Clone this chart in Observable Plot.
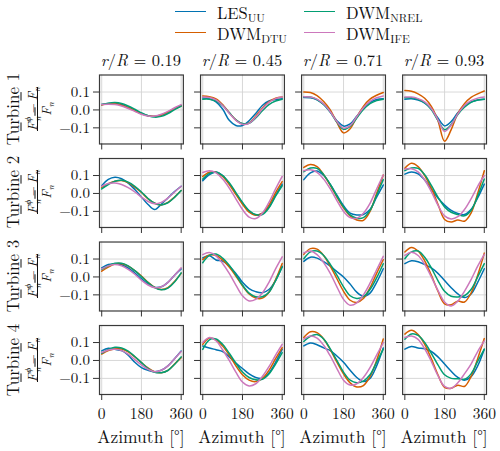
<!DOCTYPE html>
<html><head><meta charset="utf-8">
<script src="https://cdn.jsdelivr.net/npm/d3@7"></script>
<script src="https://cdn.jsdelivr.net/npm/@observablehq/plot@0.6"></script>
<style>
body{margin:0;background:#fff;}
#wrap{position:relative;width:500px;height:451px;font-family:"Latin Modern Roman","Liberation Serif",serif;color:#111;}
#wrap svg{position:absolute;left:0;top:0;}
.lab{position:absolute;white-space:nowrap;line-height:1;}
.rot{transform:translate(-50%,-50%) rotate(-90deg);}
.ctr{transform:translate(-50%,-50%);}
.sw{position:absolute;height:0;border-top:1.6px solid;width:31px;}
.leg{position:absolute;font-size:16.5px;line-height:1.1;white-space:nowrap;transform:translateY(-50%);}
.leg sub{font-size:11.5px;vertical-align:-3px;line-height:0;}
.deg{font-family:"Liberation Serif",serif;font-size:0.8em;vertical-align:0.25em;}
.fr{font-size:13px;}
.ov{text-decoration:overline;font-style:italic;}
.ss{display:inline-block;position:relative;width:0.5em;height:0.7em;font-style:italic;}
.ss .a{position:absolute;left:1px;top:-0.55em;font-size:9px;line-height:1;}
.ss .b{position:absolute;left:1px;top:0.55em;font-size:9px;line-height:1;}
.fr sub{font-size:9px;font-style:italic;line-height:0;}
.bar{position:absolute;width:0;border-left:0.9px solid #111;}
</style></head>
<body><div id="wrap"></div>
<script>
const azimuth = [0,30,60,90,120,150,180,210,240,270,300,330,360];
const seriesKeys = ["LES_UU","DWM_DTU","DWM_NREL","DWM_IFE"];
const seriesLabels = [["LES","UU"],["DWM","DTU"],["DWM","NREL"],["DWM","IFE"]];
const colors = ["#0173B2","#D55E00","#029E73","#CC78BC"];
const radii = ["0.19","0.45","0.71","0.93"];
const turbines = ["Turbine 1","Turbine 2","Turbine 3","Turbine 4"];
const xTicks = [0,180,360];
const yTicks = [-0.1,0,0.1];

// each: [LES_UU, DWM_DTU, DWM_NREL, DWM_IFE] sampled at azimuth
const t1r19 = [
 [0.030,0.036,0.037,0.030,0.015,-0.002,-0.020,-0.033,-0.037,-0.030,-0.012,0.008,0.025],
 [0.028,0.034,0.034,0.026,0.012,-0.005,-0.022,-0.033,-0.035,-0.028,-0.012,0.006,0.022],
 [0.030,0.038,0.041,0.036,0.022,0.004,-0.016,-0.032,-0.040,-0.036,-0.020,0.002,0.022],
 [0.030,0.032,0.030,0.022,0.008,-0.008,-0.024,-0.034,-0.034,-0.024,-0.008,0.012,0.030]];
const t1r45 = [
 [0.067,0.062,0.045,0.005,-0.058,-0.087,-0.087,-0.060,-0.020,0.025,0.050,0.058,0.063],
 [0.078,0.074,0.062,0.030,-0.015,-0.055,-0.078,-0.072,-0.035,0.010,0.045,0.065,0.072],
 [0.060,0.060,0.050,0.025,-0.015,-0.055,-0.076,-0.074,-0.045,-0.005,0.030,0.050,0.060],
 [0.072,0.070,0.056,0.025,-0.018,-0.058,-0.080,-0.075,-0.040,0.005,0.042,0.063,0.072]];
const t1r71 = [
 [0.070,0.068,0.056,0.030,-0.012,-0.060,-0.090,-0.078,-0.035,0.010,0.042,0.058,0.062],
 [0.100,0.097,0.080,0.047,0.000,-0.070,-0.128,-0.105,-0.040,0.020,0.060,0.082,0.097],
 [0.074,0.072,0.058,0.030,-0.012,-0.068,-0.108,-0.092,-0.045,0.002,0.035,0.052,0.060],
 [0.074,0.072,0.060,0.033,-0.010,-0.065,-0.102,-0.088,-0.038,0.012,0.048,0.068,0.078]];
const t1r93 = [
 [0.060,0.062,0.055,0.038,0.005,-0.045,-0.089,-0.065,-0.015,0.022,0.045,0.056,0.060],
 [0.108,0.104,0.090,0.065,0.020,-0.060,-0.175,-0.110,-0.020,0.035,0.070,0.090,0.106],
 [0.068,0.068,0.060,0.040,0.002,-0.058,-0.110,-0.082,-0.025,0.015,0.042,0.055,0.060],
 [0.072,0.072,0.063,0.045,0.008,-0.055,-0.120,-0.085,-0.022,0.025,0.052,0.066,0.072]];
const t2r19 = [
 [0.043,0.078,0.090,0.082,0.058,0.022,-0.020,-0.062,-0.090,-0.060,-0.025,0.010,0.040],
 [0.034,0.055,0.068,0.072,0.060,0.035,0.005,-0.030,-0.055,-0.064,-0.050,-0.020,0.016],
 [0.025,0.050,0.068,0.073,0.063,0.040,0.008,-0.028,-0.055,-0.064,-0.052,-0.022,0.016],
 [0.040,0.055,0.058,0.050,0.032,0.008,-0.020,-0.045,-0.058,-0.050,-0.025,0.008,0.040]];
const t2r45 = [
 [0.071,0.105,0.120,0.100,0.055,0.000,-0.055,-0.100,-0.120,-0.112,-0.075,-0.010,0.052],
 [0.095,0.118,0.118,0.095,0.050,-0.005,-0.060,-0.105,-0.122,-0.110,-0.065,0.005,0.066],
 [0.080,0.112,0.118,0.100,0.060,0.005,-0.050,-0.095,-0.118,-0.118,-0.080,-0.015,0.043],
 [0.117,0.127,0.115,0.080,0.030,-0.030,-0.090,-0.132,-0.140,-0.110,-0.050,0.025,0.095]];
const t2r71 = [
 [0.077,0.115,0.125,0.100,0.050,-0.010,-0.068,-0.110,-0.120,-0.118,-0.090,-0.020,0.047],
 [0.145,0.162,0.150,0.105,0.045,-0.020,-0.080,-0.125,-0.148,-0.150,-0.100,0.000,0.103],
 [0.121,0.142,0.140,0.105,0.050,-0.015,-0.075,-0.120,-0.138,-0.135,-0.095,-0.010,0.077],
 [0.127,0.132,0.118,0.080,0.025,-0.040,-0.100,-0.135,-0.138,-0.110,-0.055,0.025,0.103]];
const t2r93 = [
 [0.108,0.120,0.110,0.075,0.025,-0.025,-0.065,-0.095,-0.112,-0.118,-0.090,-0.025,0.052],
 [0.140,0.168,0.150,0.100,0.030,-0.060,-0.145,-0.160,-0.148,-0.155,-0.110,0.000,0.127],
 [0.127,0.142,0.140,0.105,0.045,-0.020,-0.075,-0.105,-0.118,-0.125,-0.095,-0.015,0.080],
 [0.136,0.138,0.120,0.075,0.010,-0.065,-0.125,-0.142,-0.130,-0.090,-0.030,0.040,0.100]];
const t3r19 = [
 [0.051,0.070,0.072,0.068,0.050,0.022,-0.010,-0.040,-0.058,-0.055,-0.030,0.010,0.045],
 [0.032,0.055,0.072,0.074,0.060,0.035,0.005,-0.030,-0.058,-0.070,-0.060,-0.025,0.020],
 [0.042,0.062,0.076,0.076,0.062,0.035,0.002,-0.032,-0.060,-0.072,-0.062,-0.028,0.023],
 [0.045,0.062,0.070,0.062,0.042,0.015,-0.018,-0.045,-0.060,-0.055,-0.030,0.010,0.051]];
const t3r45 = [
 [0.106,0.118,0.095,0.088,0.060,0.020,-0.030,-0.065,-0.082,-0.088,-0.070,-0.020,0.060],
 [0.097,0.122,0.120,0.095,0.055,0.005,-0.050,-0.095,-0.118,-0.118,-0.085,-0.015,0.075],
 [0.079,0.120,0.128,0.105,0.065,0.012,-0.045,-0.090,-0.110,-0.110,-0.085,-0.020,0.056],
 [0.125,0.136,0.118,0.075,0.020,-0.045,-0.105,-0.134,-0.125,-0.090,-0.030,0.045,0.112]];
const t3r71 = [
 [0.087,0.110,0.105,0.085,0.060,0.030,0.000,-0.040,-0.085,-0.108,-0.090,-0.030,0.046],
 [0.126,0.158,0.155,0.120,0.060,-0.010,-0.080,-0.130,-0.142,-0.120,-0.060,0.020,0.096],
 [0.102,0.140,0.145,0.120,0.070,0.010,-0.055,-0.105,-0.120,-0.110,-0.070,-0.005,0.074],
 [0.134,0.145,0.125,0.080,0.020,-0.055,-0.125,-0.158,-0.145,-0.100,-0.035,0.040,0.115]];
const t3r93 = [
 [0.074,0.090,0.085,0.070,0.050,0.020,-0.020,-0.060,-0.095,-0.115,-0.095,-0.030,0.046],
 [0.139,0.165,0.145,0.090,0.010,-0.080,-0.150,-0.155,-0.135,-0.140,-0.090,0.010,0.133],
 [0.102,0.140,0.145,0.110,0.050,-0.020,-0.080,-0.108,-0.112,-0.105,-0.070,0.000,0.074],
 [0.120,0.138,0.120,0.070,0.000,-0.075,-0.140,-0.162,-0.135,-0.080,-0.015,0.060,0.126]];
const t4r19 = [
 [0.053,0.068,0.062,0.055,0.030,-0.010,-0.040,-0.055,-0.063,-0.055,-0.030,0.010,0.053],
 [0.035,0.055,0.066,0.064,0.048,0.020,-0.012,-0.042,-0.063,-0.068,-0.055,-0.020,0.016],
 [0.040,0.062,0.074,0.070,0.052,0.022,-0.012,-0.045,-0.066,-0.068,-0.056,-0.022,0.020],
 [0.044,0.058,0.062,0.055,0.035,0.005,-0.025,-0.050,-0.063,-0.055,-0.030,0.010,0.050]];
const t4r45 = [
 [0.081,0.070,0.060,0.050,0.020,-0.015,-0.045,-0.075,-0.095,-0.100,-0.070,-0.010,0.063],
 [0.090,0.125,0.115,0.080,0.030,-0.030,-0.080,-0.110,-0.118,-0.100,-0.055,0.010,0.072],
 [0.062,0.115,0.120,0.090,0.040,-0.015,-0.065,-0.095,-0.108,-0.105,-0.075,-0.020,0.044],
 [0.100,0.128,0.110,0.060,0.000,-0.065,-0.120,-0.142,-0.130,-0.090,-0.035,0.030,0.090]];
const t4r71 = [
 [0.081,0.098,0.088,0.070,0.055,0.025,-0.010,-0.055,-0.095,-0.118,-0.100,-0.030,0.070],
 [0.128,0.160,0.155,0.120,0.060,-0.010,-0.075,-0.125,-0.148,-0.140,-0.090,0.000,0.120],
 [0.106,0.135,0.145,0.120,0.065,0.000,-0.065,-0.110,-0.124,-0.115,-0.080,-0.010,0.063],
 [0.119,0.137,0.125,0.085,0.025,-0.045,-0.110,-0.137,-0.130,-0.095,-0.040,0.030,0.100]];
const t4r93 = [
 [0.063,0.078,0.070,0.065,0.050,0.020,-0.020,-0.060,-0.095,-0.110,-0.090,-0.030,0.063],
 [0.147,0.168,0.145,0.090,0.010,-0.080,-0.150,-0.155,-0.138,-0.145,-0.090,0.010,0.122],
 [0.119,0.148,0.140,0.100,0.040,-0.025,-0.080,-0.100,-0.102,-0.105,-0.075,-0.005,0.063],
 [0.128,0.137,0.118,0.065,-0.005,-0.085,-0.145,-0.155,-0.125,-0.075,-0.020,0.050,0.109]];

const panels = [
 [t1r19,t1r45,t1r71,t1r93],
 [t2r19,t2r45,t2r71,t2r93],
 [t3r19,t3r45,t3r71,t3r93],
 [t4r19,t4r45,t4r71,t4r93]];

const rows = [];
panels.forEach((row, ti) => row.forEach((panel, ri) => panel.forEach((vals, si) =>
  vals.forEach((v, k) => rows.push({turbine: turbines[ti], r: radii[ri], series: seriesKeys[si], az: azimuth[k], v})))));

const fmtY = d => Math.abs(d) < 1e-9 ? "0.0" : (d < 0 ? "\u2212" : "") + Math.abs(d).toFixed(1);
const FONT = '"Latin Modern Roman","Liberation Serif",serif';

const chart = Plot.plot({
  width: 500, height: 451,
  marginLeft: 99, marginRight: 14, marginTop: 74.5, marginBottom: 57,
  style: {fontFamily: FONT, fontSize: "15px", color: "#222", background: "transparent"},
  fx: {domain: radii, paddingInner: 0.17, paddingOuter: 0, round: false, axis: null},
  fy: {domain: turbines, paddingInner: 0.174, paddingOuter: 0, round: false, axis: null},
  x: {domain: [-10, 370]},
  y: {domain: [-0.19, 0.195]},
  color: {domain: seriesKeys, range: colors},
  marks: [
    Plot.gridX({ticks: xTicks, stroke: "#d4d4d4", strokeOpacity: 1, strokeWidth: 0.9}),
    Plot.gridY({ticks: yTicks, stroke: "#d4d4d4", strokeOpacity: 1, strokeWidth: 0.9}),
    Plot.line(rows, {x: "az", y: "v", z: "series", stroke: "series", fx: "r", fy: "turbine", curve: "catmull-rom", strokeWidth: 1.5}),
    Plot.frame({stroke: "#3a3a3a", strokeWidth: 1.2}),
    Plot.axisX({ticks: xTicks, tickSize: 6, tickFormat: () => "", fill: "none", label: null, facetAnchor: null, stroke: "#333"}),
    Plot.axisX({ticks: xTicks, tickSize: 0, tickPadding: 13, label: null, fontSize: 15.5, fontFamily: FONT, fill: "#111"}),
    Plot.axisY({ticks: yTicks, tickSize: 6, tickFormat: () => "", fill: "none", label: null, facetAnchor: null, stroke: "#333"}),
    Plot.axisY({ticks: yTicks, tickSize: 0, tickPadding: 9.5, tickFormat: fmtY, label: null, fontSize: 15, fontFamily: FONT, fill: "#111"})
  ]
});

const wrap = document.getElementById("wrap");
wrap.appendChild(chart);

const sfx = chart.scale("fx"), sfy = chart.scale("fy");
const colCenter = r => sfx.apply(r) + sfx.bandwidth / 2;
const rowCenter = t => sfy.apply(t) + sfy.bandwidth / 2;

function addLabel(html, x, y, cls, style) {
  const d = document.createElement("div");
  d.className = "lab " + cls;
  d.innerHTML = html;
  d.style.left = x + "px"; d.style.top = y + "px";
  Object.assign(d.style, style || {});
  wrap.appendChild(d);
  return d;
}

radii.forEach(r => {
  addLabel(`<i>r</i>/<i>R</i> = ${r}`, colCenter(r), 59, "ctr", {fontSize: "16.5px"});
  addLabel(`Azimuth [<span class="deg">\u00b0</span>]`, colCenter(r), 436, "ctr", {fontSize: "17.5px"});
});

const numHTML = `<span class="ov">F</span><span class="ss"><span class="a">\u03d5</span><span class="b">n</span></span>\u2009\u2212\u2009<span class="ov">F</span><sub>n</sub>`;
const denHTML = `<span class="ov">F</span><sub>n</sub>`;
turbines.forEach(t => {
  const cy = rowCenter(t);
  addLabel(t, 11.5, cy, "rot", {fontSize: "17px"});
  addLabel(numHTML, 31, cy, "rot fr", {});
  addLabel(denHTML, 44.5, cy, "rot fr", {});
  const b = document.createElement("div");
  b.className = "bar";
  b.style.left = "37px"; b.style.top = (cy - 22) + "px"; b.style.height = "44px";
  wrap.appendChild(b);
});

const legPos = [[175, 12], [175, 32.5], [304, 12], [304, 32.5]];
seriesKeys.forEach((k, i) => {
  const [x, y] = legPos[i];
  const sw = document.createElement("div");
  sw.className = "sw";
  sw.style.left = x + "px"; sw.style.top = (y - 0.8) + "px"; sw.style.borderColor = colors[i];
  wrap.appendChild(sw);
  const t = document.createElement("div");
  t.className = "leg";
  t.style.left = (x + 42) + "px"; t.style.top = y + "px";
  t.innerHTML = `${seriesLabels[i][0]}<sub>${seriesLabels[i][1]}</sub>`;
  wrap.appendChild(t);
});
</script></body></html>
